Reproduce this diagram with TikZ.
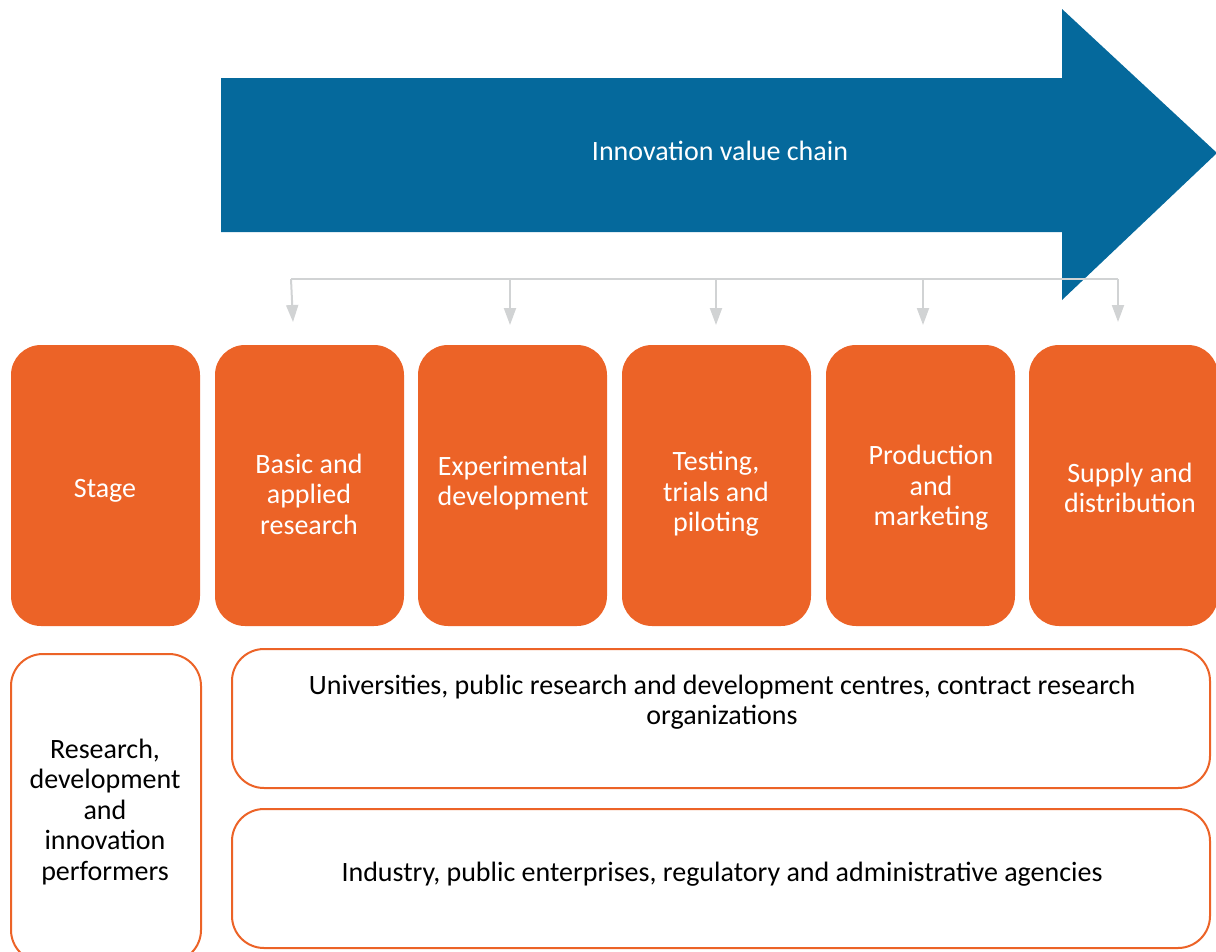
\documentclass[tikz,border=0pt]{standalone}
\usepackage{fontspec}
\setmainfont{Carlito}
\usetikzlibrary{arrows.meta}
\definecolor{chainblue}{HTML}{05699C}
\definecolor{stageorange}{HTML}{EC6327}
\definecolor{conngray}{HTML}{D1D3D4}
\tikzset{
  stagebox/.style={draw=none, fill=stageorange, rounded corners=30pt, inner sep=0pt},
  performbox/.style={draw=stageorange, line width=2pt, fill=white, rounded corners=32pt, inner sep=0pt},
  whitetxt/.style={text=white, align=center, font=\fontsize{28}{30.5}\selectfont, inner sep=0pt},
  blacktxt/.style={text=black, align=center, font=\fontsize{28}{30.5}\selectfont, inner sep=0pt},
  conn/.style={draw=conngray, line width=2pt},
  connarrow/.style={conn, -{Triangle[width=12pt,length=17pt]}},
}
\begin{document}
\begin{tikzpicture}[x=1pt,y=-1pt]
\useasboundingbox (0,0) rectangle (1216,951);
% big arrow
\fill[chainblue] (221,78) -- (1062,78) -- (1062,9) -- (1217,153) -- (1062,300) -- (1062,232) -- (221,232) -- cycle;
\node[whitetxt] (chain) at (720,151) {Innovation value chain};
% connectors
\coordinate (busL) at (291,279);
\coordinate (busR) at (1118,279);
\coordinate (t1) at (293,322);
\coordinate (t2) at (510,325);
\coordinate (t3) at (716,325);
\coordinate (t4) at (923,325);
\coordinate (t5) at (1118,322);
\draw[conn] (busL) -- (busR);
\draw[connarrow] (busL) -- (t1);
\draw[connarrow] (t2 |- busL) -- (t2);
\draw[connarrow] (t3 |- busL) -- (t3);
\draw[connarrow] (t4 |- busL) -- (t4);
\draw[connarrow] (busR) -- (t5);
% stage boxes
\path[stagebox] (11,345) rectangle (200,626) node[midway] (s0) {};
\path[stagebox] (215,345) rectangle (404,626) node[midway] (s1) {};
\path[stagebox] (418,345) rectangle (607,626) node[midway] (s2) {};
\path[stagebox] (622,345) rectangle (811,626) node[midway] (s3) {};
\path[stagebox] (826,345) rectangle (1015,626) node[midway] (s4) {};
\path[stagebox] (1029,345) rectangle (1218,626) node[midway] (s5) {};
\node[whitetxt] (s0t) at (105,491) {Stage};
\node[whitetxt] (s1t) at (309,494) {Basic and\\applied\\research};
\node[whitetxt] (s2t) at (513,483) {Experimental\\development};
\node[whitetxt] (s3t) at (716,494) {Testing,\\trials and\\piloting};
\node[whitetxt] (s4t) at (931,488) {Production\\and\\marketing};
\node[whitetxt] (s5t) at (1130,488) {Supply and\\distribution};
% performer boxes
\path[performbox] (11,654) rectangle (201,962);
\path[performbox] (232,649) rectangle (1210,788);
\path[performbox] (232,809) rectangle (1210,948);
\node[blacktxt] (pt) at (105,812) {Research,\\development\\and\\innovation\\performers};
\node[blacktxt] (ut) at (722,702) {Universities, public research and development centres, contract research\\organizations};
\node[blacktxt] (it) at (722,874) {Industry, public enterprises, regulatory and administrative agencies};
\end{tikzpicture}
\end{document}
